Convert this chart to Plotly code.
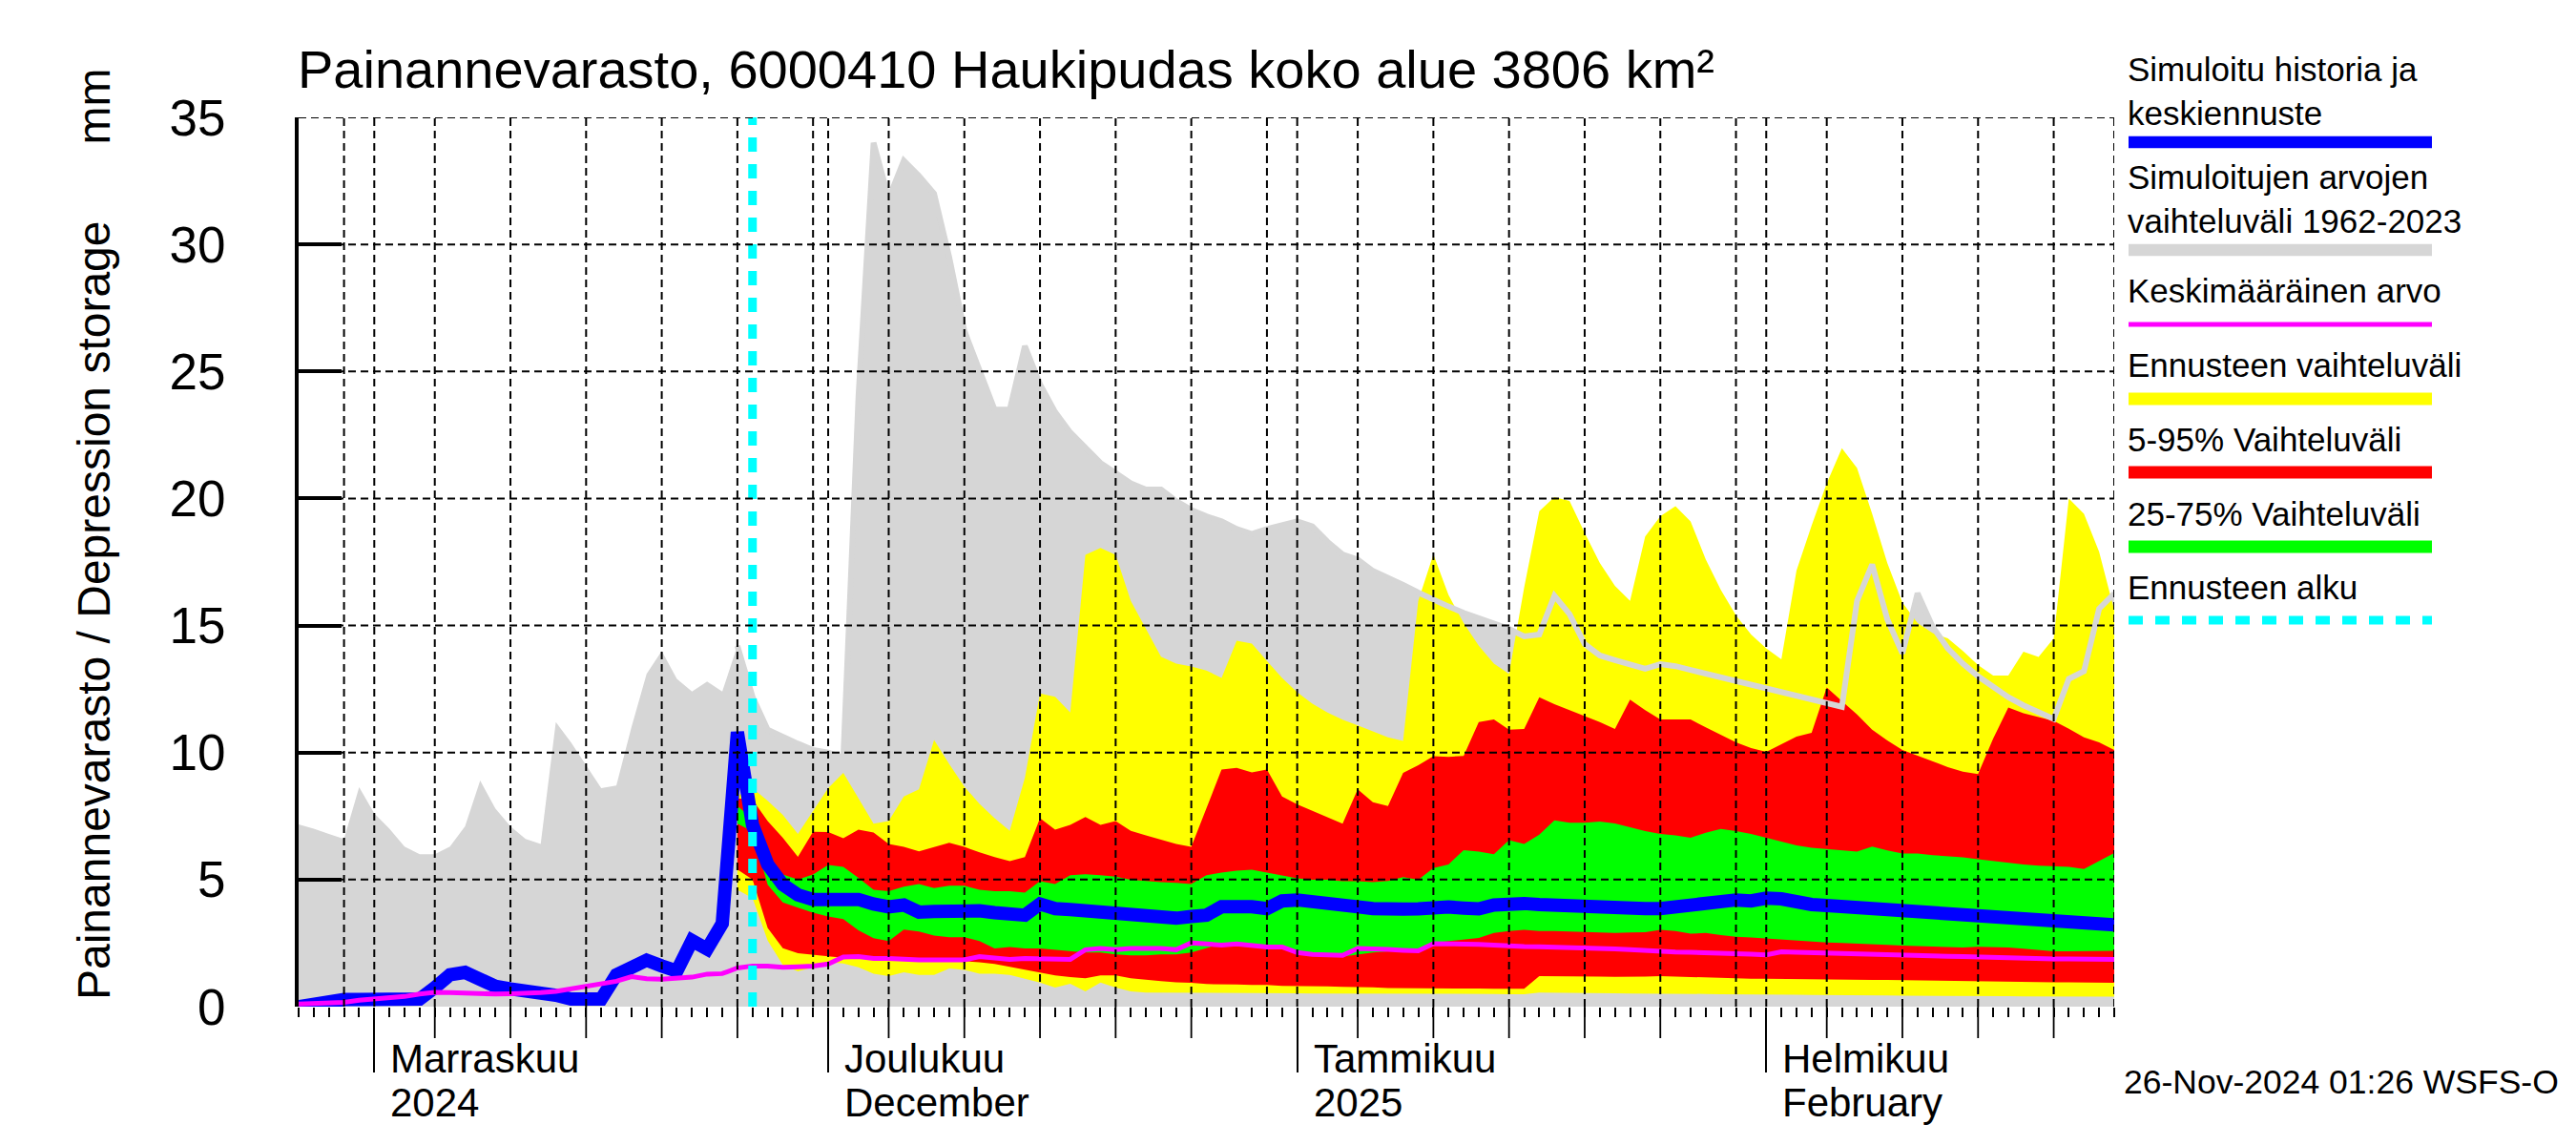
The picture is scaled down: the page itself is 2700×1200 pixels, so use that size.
import plotly.graph_objects as go
import pandas as pd

# ---------------- data ----------------
start_date = "2024-10-27"
end_date = "2025-02-24"
forecast_start = "2024-11-26"
dates = pd.date_range(start_date, end_date, freq="D")          # 121 days
fc_dates = dates[29:]                                           # forecast bands from 2024-11-25

gray_max = [7.17, 7.0, 6.8, 6.6, 8.64, 7.6, 7.0, 6.3, 6.0, 6.0,
            6.3, 7.1, 8.9, 7.8, 7.1, 6.6, 6.4, 11.2, 10.4, 9.5,
            8.6, 8.7, 11.0, 13.1, 14.0, 12.9, 12.4, 12.8, 12.4, 14.2,
            12.2, 10.9, 10.6, 10.35, 10.1, 10.0, 9.8, 24.0, 34.0, 31.8,
            33.3, 32.7, 32.0, 29.5, 26.6, 25.1, 23.5, 23.5, 26.0, 24.5,
            23.4, 22.6, 22.0, 21.4, 21.0, 20.6, 20.35, 20.35, 19.9, 19.55,
            19.3, 19.1, 18.8, 18.6, 18.8, 18.96, 19.1, 18.9, 18.3, 17.8,
            17.6, 17.15, 16.9, 16.6, 16.3, 16.0, 15.75, 15.5, 15.3, 15.1,
            14.87, 14.57, 14.65, 16.17, 15.45, 14.27, 13.82, 13.64, 13.47, 13.3,
            13.48, 13.4, 13.25, 13.1, 12.95, 12.8, 12.65, 12.5, 12.4, 12.25,
            12.1, 11.95, 11.8, 15.97, 17.4, 15.25, 13.9, 16.27, 14.95, 14.1,
            13.5, 13.0, 12.56, 12.18, 11.86, 11.6, 11.32, 12.9, 13.2, 15.66, 16.26]

blue_median = [0.0, 0.12, 0.25, 0.28, 0.28, 0.28, 0.26, 0.26, 0.3, 0.75,
               1.25, 1.35, 1.0, 0.8, 0.7, 0.65, 0.62, 0.45, 0.3, 0.3,
               0.3, 1.25, 1.6, 1.83, 1.6, 1.4, 2.6, 2.27, 3.27, 10.8,
               7.15, 5.6, 4.8, 4.4, 4.22, 4.2, 4.28, 4.22, 4.04, 3.93,
               4.0, 3.72, 3.75, 3.77, 3.86, 3.77, 3.7, 3.64, 3.6, 4.04,
               3.86, 3.82, 3.77, 3.7, 3.64, 3.6, 3.55, 3.5, 3.48, 3.55,
               3.6, 3.93, 3.98, 3.93, 3.86, 4.16, 4.2, 4.16, 4.04, 4.0,
               3.93, 3.86, 3.8, 3.84, 3.85, 3.95, 3.92, 3.88, 3.85, 4.0,
               4.09, 4.06, 4.02, 3.98, 3.94, 3.9, 3.86, 3.86, 3.86, 3.86,
               3.86, 3.94, 4.02, 4.05, 4.09, 4.2, 4.16, 4.27, 4.24, 4.09,
               4.02, 3.98, 3.94, 3.9, 3.86, 3.8, 3.74, 3.7, 3.66, 3.62,
               3.6, 3.55, 3.5, 3.47, 3.43, 3.38, 3.34, 3.31, 3.28, 3.25, 3.22]

mean_value = [0.1, 0.13, 0.15, 0.17, 0.25, 0.3, 0.33, 0.4, 0.5, 0.56,
              0.55, 0.52, 0.5, 0.5, 0.51, 0.52, 0.55, 0.6, 0.69, 0.82,
              0.88, 1.0, 1.18, 1.1, 1.08, 1.12, 1.16, 1.28, 1.3, 1.52,
              1.6, 1.6, 1.55, 1.57, 1.6, 1.68, 1.95, 1.97, 1.9, 1.9,
              1.86, 1.84, 1.84, 1.84, 1.84, 1.97, 1.9, 1.86, 1.9, 1.9,
              1.86, 1.86, 2.24, 2.29, 2.24, 2.29, 2.29, 2.29, 2.24, 2.51,
              2.47, 2.42, 2.47, 2.4, 2.35, 2.35, 2.13, 2.06, 2.02, 2.02,
              2.29, 2.29, 2.25, 2.22, 2.2, 2.48, 2.48, 2.47, 2.45, 2.42,
              2.38, 2.37, 2.36, 2.35, 2.33, 2.31, 2.29, 2.27, 2.24, 2.2,
              2.16, 2.15, 2.14, 2.13, 2.11, 2.09, 2.07, 2.04, 2.16, 2.14,
              2.12, 2.11, 2.09, 2.07, 2.05, 2.03, 2.01, 2.0, 1.99, 1.98,
              1.97, 1.95, 1.94, 1.93, 1.92, 1.9, 1.88, 1.88, 1.87, 1.87, 1.86]

yellow_hi = [8.3, 8.6, 8.1, 7.55, 6.8, 7.7, 8.6, 9.2, 8.2, 7.2,
             7.3, 8.27, 8.55, 10.5, 9.55, 8.66, 7.98, 7.42, 6.92, 9.0,
             12.33, 12.2, 11.58, 17.78, 18.05, 17.78, 15.97, 14.85, 13.77, 13.5,
             13.39, 13.23, 12.94, 14.4, 14.29, 13.6, 12.94, 12.37, 11.92, 11.58,
             11.29, 11.07, 10.84, 10.6, 10.46, 15.97, 17.8, 16.2, 15.1, 14.2,
             13.5, 13.1, 16.5, 19.5, 20.05, 19.9, 18.65, 17.46, 16.56, 15.97,
             18.5, 19.3, 19.7, 19.1, 17.6, 16.4, 15.4, 14.65, 14.1, 13.67,
             17.16, 18.94, 20.6, 21.98, 21.2, 19.4, 17.46, 15.9, 15.1, 14.7,
             14.5, 14.0, 13.44, 13.03, 13.03, 13.97, 13.76, 14.5, 20.0, 19.4, 17.9, 15.6]

red_hi = [8.2, 8.15, 7.3, 6.65, 5.9, 6.88, 6.87, 6.63, 6.97, 6.85,
          6.4, 6.29, 6.11, 6.29, 6.45, 6.29, 6.07, 5.89, 5.73, 5.89,
          7.42, 6.97, 7.15, 7.46, 7.15, 7.3, 6.92, 6.74, 6.56, 6.4,
          6.29, 7.8, 9.33, 9.4, 9.22, 9.33, 8.27, 7.96, 7.7, 7.46,
          7.2, 8.55, 8.05, 7.9, 9.2, 9.5, 9.86, 9.83, 9.87, 11.2,
          11.3, 10.9, 10.93, 12.18, 11.9, 11.67, 11.44, 11.2, 10.93, 12.08,
          11.67, 11.3, 11.3, 11.3, 10.99, 10.7, 10.4, 10.18, 10.03, 10.33,
          10.63, 10.78, 12.56, 12.03, 11.5, 10.9, 10.48, 10.1, 9.88, 9.66,
          9.43, 9.25, 9.15, 10.55, 11.77, 11.55, 11.41, 11.25, 10.94, 10.6, 10.4, 10.1]

green_hi = [7.9, 7.4, 6.0, 5.2, 5.0, 5.2, 5.58, 5.5, 5.07, 4.6,
            4.54, 4.72, 4.83, 4.67, 4.76, 4.76, 4.6, 4.54, 4.54, 4.49,
            4.94, 4.83, 5.17, 5.21, 5.17, 5.12, 4.99, 4.94, 4.9, 4.87,
            4.83, 5.17, 5.28, 5.35, 5.39, 5.28, 5.17, 5.05, 4.99, 4.99,
            4.94, 4.94, 4.9, 4.95, 5.1, 4.99, 5.45, 5.6, 6.16, 6.1,
            6.0, 6.55, 6.4, 6.77, 7.33, 7.24, 7.24, 7.29, 7.21, 7.06,
            6.91, 6.8, 6.74, 6.65, 6.84, 6.99, 6.91, 6.8, 6.65, 6.5,
            6.35, 6.25, 6.2, 6.15, 6.1, 6.3, 6.15, 6.03, 6.03, 5.96,
            5.91, 5.88, 5.8, 5.73, 5.67, 5.6, 5.55, 5.52, 5.5, 5.42, 5.72, 6.05]

green_lo = [7.2, 6.9, 4.8, 4.1, 3.9, 3.7, 3.55, 3.45, 3.0, 2.69,
            2.58, 3.03, 2.96, 2.8, 2.73, 2.73, 2.58, 2.29, 2.35, 2.29,
            2.29, 2.24, 2.2, 2.13, 2.13, 2.06, 2.02, 2.02, 2.06, 2.06,
            2.13, 2.29, 2.47, 2.51, 2.47, 2.42, 2.35, 2.2, 2.02, 1.97,
            1.97, 2.06, 2.13, 2.18, 2.2, 2.2, 2.52, 2.58, 2.62, 2.7,
            2.9, 2.98, 3.02, 2.98, 2.98, 2.96, 2.93, 2.92, 2.9, 2.92,
            2.93, 3.02, 2.98, 2.87, 2.9, 2.82, 2.75, 2.72, 2.68, 2.64,
            2.6, 2.57, 2.53, 2.51, 2.49, 2.46, 2.43, 2.4, 2.38, 2.36,
            2.34, 2.33, 2.36, 2.35, 2.33, 2.28, 2.23, 2.18, 2.18, 2.19, 2.2, 2.2]

red_lo = [5.4, 5.0, 3.1, 2.3, 2.1, 2.03, 1.98, 1.92, 1.95, 1.88,
          1.88, 1.9, 1.88, 1.84, 1.84, 1.79, 1.75, 1.68, 1.57, 1.45,
          1.34, 1.23, 1.16, 1.12, 1.23, 1.23, 1.12, 1.05, 1.0, 0.96,
          0.94, 0.89, 0.89, 0.87, 0.85, 0.85, 0.82, 0.82, 0.8, 0.8,
          0.78, 0.78, 0.76, 0.73, 0.73, 0.71, 0.71, 0.71, 0.71, 0.71,
          0.7, 0.7, 0.7, 1.2, 1.2, 1.19, 1.18, 1.18, 1.17, 1.17,
          1.18, 1.2, 1.18, 1.16, 1.14, 1.12, 1.1, 1.1, 1.1, 1.09,
          1.08, 1.08, 1.07, 1.06, 1.06, 1.05, 1.05, 1.04, 1.03, 1.02,
          1.01, 1.0, 0.99, 0.99, 0.98, 0.97, 0.97, 0.96, 0.96, 0.95, 0.95, 0.94]

yellow_lo = [4.6, 4.27, 2.6, 1.64, 1.39, 1.55, 1.75, 1.7, 1.55, 1.3,
             1.2, 1.35, 1.25, 1.25, 1.5, 1.45, 1.3, 1.3, 1.25, 1.1,
             0.95, 0.75, 0.9, 0.6, 0.95, 0.75, 0.6, 0.55, 0.55, 0.55,
             0.55, 0.55, 0.54, 0.54, 0.54, 0.53, 0.53, 0.53, 0.52, 0.52,
             0.52, 0.52, 0.51, 0.51, 0.51, 0.5, 0.5, 0.5, 0.5, 0.5,
             0.5, 0.49, 0.49, 0.55, 0.55, 0.54, 0.54, 0.53, 0.53, 0.52,
             0.52, 0.51, 0.51, 0.5, 0.5, 0.49, 0.49, 0.48, 0.48, 0.47,
             0.47, 0.46, 0.46, 0.45, 0.45, 0.44, 0.44, 0.43, 0.43, 0.42,
             0.42, 0.42, 0.41, 0.41, 0.41, 0.4, 0.4, 0.4, 0.4, 0.39, 0.39, 0.39]

y_ticks = [0, 5, 10, 15, 20, 25, 30, 35]
y_max = 35

title_text = "Painannevarasto, 6000410 Haukipudas koko alue 3806 km²"
y_title = "Painannevarasto / Depression storage" + "\u00a0" * 6 + "mm"
month_labels = [("2024-11-01", "Marraskuu", "2024"),
                ("2024-12-01", "Joulukuu", "December"),
                ("2025-01-01", "Tammikuu", "2025"),
                ("2025-02-01", "Helmikuu", "February")]
footer = "26-Nov-2024 01:26 WSFS-O"

# ---------------- style ----------------
FONT = "Liberation Sans, Arial, Helvetica, sans-serif"
GRAY = "#d6d6d6"
YEL = "#ffff00"
RED = "#ff0000"
GRN = "#00ff00"
BLUE = "#0000ff"
MAG = "#ff00ff"
CYAN = "#00ffff"

W, H = 2700, 1200
L, R, T, B = 305, 492, 115, 153
PW, PH = W - L - R, H - T - B


def px(x):
    return (x - L) / PW


def py(y):
    return (H - B - y) / PH


fig = go.Figure()


def band(x, lo, hi, color):
    fig.add_trace(go.Scatter(x=x, y=lo, mode="lines", line=dict(width=0, color=color),
                             hoverinfo="skip", showlegend=False))
    fig.add_trace(go.Scatter(x=x, y=hi, mode="lines", line=dict(width=0, color=color),
                             fill="tonexty", fillcolor=color, hoverinfo="skip", showlegend=False))


fig.add_trace(go.Scatter(x=dates, y=gray_max, mode="lines", line=dict(width=0, color=GRAY),
                         fill="tozeroy", fillcolor=GRAY, hoverinfo="skip", showlegend=False))
band(fc_dates, yellow_lo, yellow_hi, YEL)
band(fc_dates, red_lo, red_hi, RED)
band(fc_dates, green_lo, green_hi, GRN)
fig.add_trace(go.Scatter(x=fc_dates, y=gray_max[29:], mode="lines",
                         line=dict(width=6, color=GRAY), hoverinfo="skip", showlegend=False))
fig.add_trace(go.Scatter(x=dates, y=blue_median, mode="lines",
                         line=dict(width=14, color=BLUE), hoverinfo="skip", showlegend=False))
fig.add_trace(go.Scatter(x=dates, y=mean_value, mode="lines",
                         line=dict(width=5, color=MAG), hoverinfo="skip", showlegend=False))
fig.add_trace(go.Scatter(x=[forecast_start, forecast_start], y=[0, y_max], mode="lines",
                         line=dict(width=9, color=CYAN, dash="15px,13px"),
                         hoverinfo="skip", showlegend=False))

# ---------------- grid & ticks (drawn above the fills) ----------------
grid_days = [d for d in dates if d.day in (1, 5, 10, 15, 20, 25, 30)] + [dates[-1]]
tick5_days = [d for d in dates if d.day in (5, 10, 15, 20, 25)]
month_starts = [d for d in dates if d.day == 1]
GRID = dict(color="black", width=2, dash="8px,5px")
shapes = []
for d in grid_days:
    shapes.append(dict(type="line", xref="x", yref="y", x0=d, x1=d, y0=0, y1=y_max,
                       line=GRID, layer="above"))
for v in y_ticks[1:]:
    shapes.append(dict(type="line", xref="paper", yref="y", x0=0, x1=1, y0=v, y1=v,
                       line=GRID, layer="above"))
for d in tick5_days:
    shapes.append(dict(type="line", xref="x", yref="paper", x0=d, x1=d, y0=0, y1=-33 / PH,
                       line=dict(color="black", width=1.8), layer="above"))

# ---------------- legend (manual) ----------------
# (text with line breaks, y-centre of text block, y of sample line, colour, width, dash)
legend = [("Simuloitu historia ja<br>keskiennuste", 88, 141, BLUE, 12.5, None),
          ("Simuloitujen arvojen<br>vaihteluväli 1962-2023", 201, 254, GRAY, 12.5, None),
          ("Keskimääräinen arvo", 296, 332, MAG, 5, None),
          ("Ennusteen vaihteluväli", 374, 410, YEL, 13, None),
          ("5-95% Vaihteluväli", 452, 487, RED, 13, None),
          ("25-75% Vaihteluväli", 530, 565, GRN, 13, None),
          ("Ennusteen alku", 607, 642, CYAN, 9, "15px,13px")]
annotations = []
for t, yy, ly, col, lw, dash in legend:
    annotations.append(dict(x=px(2220), y=py(yy), xref="paper", yref="paper", text=t,
                            showarrow=False, xanchor="left", yanchor="middle", align="left",
                            font=dict(family=FONT, size=35, color="black")))
    ln = dict(color=col, width=lw)
    if dash:
        ln["dash"] = dash
    shapes.append(dict(type="line", xref="paper", yref="paper", x0=px(2223), x1=px(2541),
                       y0=py(ly), y1=py(ly), line=ln, layer="above"))

# title, axis title, month labels, footer
annotations.append(dict(x=px(302), y=py(64), xref="paper", yref="paper", text=title_text,
                        showarrow=False, xanchor="left", yanchor="middle",
                        font=dict(family=FONT, size=56, color="black")))
annotations.append(dict(x=px(90), y=py(552), xref="paper", yref="paper", text=y_title,
                        showarrow=False, xanchor="center", yanchor="middle", textangle=-90,
                        font=dict(family=FONT, size=48, color="black")))
for d, l1, l2 in month_labels:
    for t, yy in ((l1, 1101), (l2, 1147)):
        annotations.append(dict(x=d, y=py(yy), xref="x", yref="paper", text=t, xshift=15,
                                showarrow=False, xanchor="left", yanchor="middle",
                                font=dict(family=FONT, size=42, color="black")))
annotations.append(dict(x=px(2676), y=py(1126), xref="paper", yref="paper", text=footer,
                        showarrow=False, xanchor="right", yanchor="middle",
                        font=dict(family=FONT, size=35.5, color="black")))

fig.update_layout(
    width=W, height=H,
    margin=dict(l=L, r=R, t=T, b=B, pad=0),
    paper_bgcolor="white", plot_bgcolor="white",
    showlegend=False,
    shapes=shapes, annotations=annotations,
    xaxis=dict(type="date", range=[start_date, end_date],
               tickmode="array", tickvals=month_starts, ticks="outside",
               ticklen=68, tickwidth=1.8, tickcolor="black", showticklabels=False,
               showgrid=False, zeroline=False, showline=False, layer="above traces",
               minor=dict(tickmode="linear", tick0=start_date, dtick=86400000,
                          ticks="outside", ticklen=10, tickwidth=1.8, tickcolor="black",
                          showgrid=False)),
    yaxis=dict(range=[0, y_max], tickmode="array", tickvals=y_ticks, ticks="inside",
               ticklen=45, tickwidth=4, tickcolor="black", showline=True, linewidth=4,
               linecolor="black", showgrid=False, zeroline=False, layer="above traces",
               ticklabelstandoff=62,
               tickfont=dict(family=FONT, size=53, color="black")),
)

fig.write_html("out.html")
